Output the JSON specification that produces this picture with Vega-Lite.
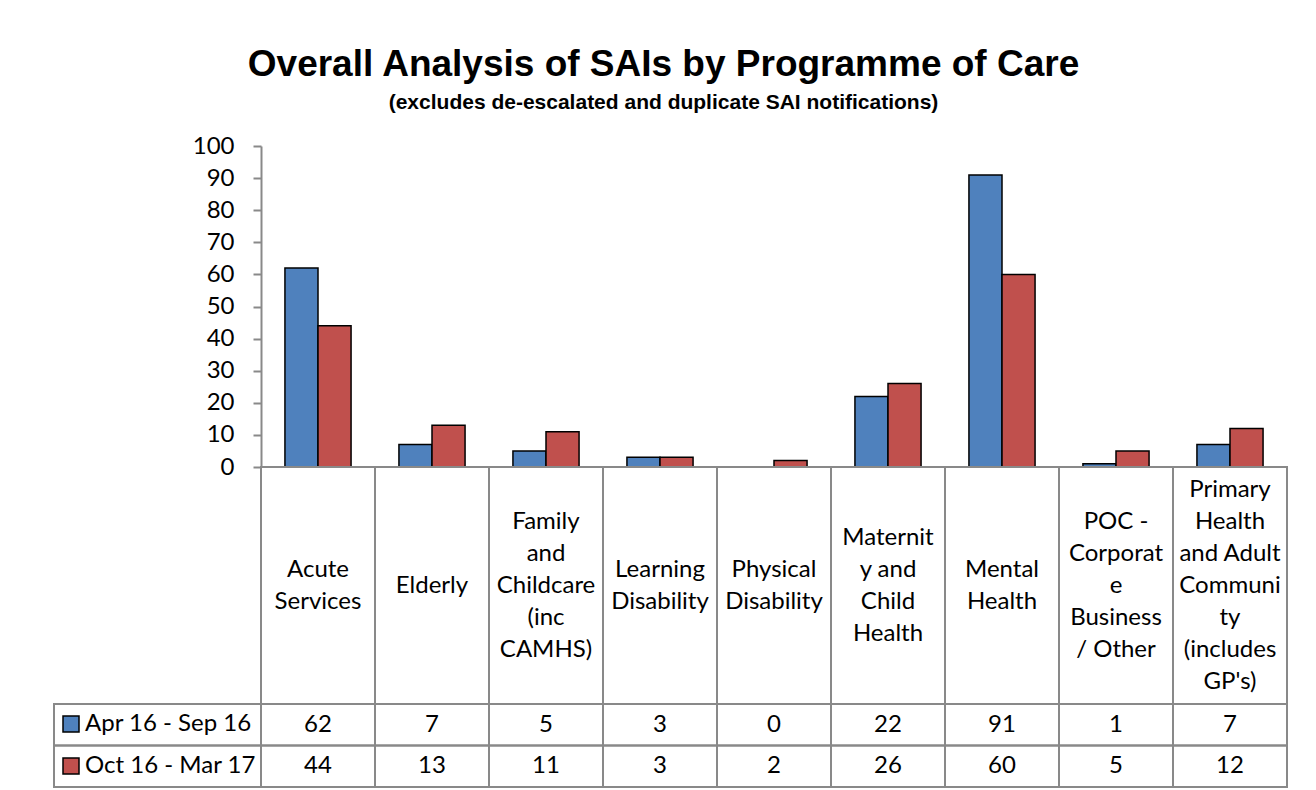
{
  "$schema": "https://vega.github.io/schema/vega-lite/v6.json",
  "background": "white",
  "padding": {"left": 53, "top": 46, "right": 5, "bottom": 2},
  "title": {
    "text": "Overall Analysis of SAIs by Programme of Care",
    "subtitle": "(excludes de-escalated and duplicate SAI notifications)",
    "font": "Liberation Sans", "fontSize": 37, "fontWeight": "bold", "color": "black",
    "subtitleFont": "Liberation Sans", "subtitleFontSize": 21, "subtitleFontWeight": "bold", "subtitleColor": "black",
    "anchor": "middle", "subtitlePadding": 8, "offset": 20, "dx": -7
  },
  "config": {"view": {"stroke": null}, "font": "Lato"},
  "datasets": {
    "bars": [
      {"category": "Acute Services", "series": "Apr 16 - Sep 16", "value": 62},
      {"category": "Acute Services", "series": "Oct 16 - Mar 17", "value": 44},
      {"category": "Elderly", "series": "Apr 16 - Sep 16", "value": 7},
      {"category": "Elderly", "series": "Oct 16 - Mar 17", "value": 13},
      {"category": "Family and Childcare (inc CAMHS)", "series": "Apr 16 - Sep 16", "value": 5},
      {"category": "Family and Childcare (inc CAMHS)", "series": "Oct 16 - Mar 17", "value": 11},
      {"category": "Learning Disability", "series": "Apr 16 - Sep 16", "value": 3},
      {"category": "Learning Disability", "series": "Oct 16 - Mar 17", "value": 3},
      {"category": "Physical Disability", "series": "Apr 16 - Sep 16", "value": 0},
      {"category": "Physical Disability", "series": "Oct 16 - Mar 17", "value": 2},
      {"category": "Maternity and Child Health", "series": "Apr 16 - Sep 16", "value": 22},
      {"category": "Maternity and Child Health", "series": "Oct 16 - Mar 17", "value": 26},
      {"category": "Mental Health", "series": "Apr 16 - Sep 16", "value": 91},
      {"category": "Mental Health", "series": "Oct 16 - Mar 17", "value": 60},
      {"category": "POC - Corporate Business / Other", "series": "Apr 16 - Sep 16", "value": 1},
      {"category": "POC - Corporate Business / Other", "series": "Oct 16 - Mar 17", "value": 5},
      {"category": "Primary Health and Adult Community (includes GP's)", "series": "Apr 16 - Sep 16", "value": 7},
      {"category": "Primary Health and Adult Community (includes GP's)", "series": "Oct 16 - Mar 17", "value": 12}
    ],
    "cats": [
      {"category": "Acute Services", "label": "Acute\nServices"},
      {"category": "Elderly", "label": "Elderly"},
      {"category": "Family and Childcare (inc CAMHS)", "label": "Family\nand\nChildcare\n(inc\nCAMHS)"},
      {"category": "Learning Disability", "label": "Learning\nDisability"},
      {"category": "Physical Disability", "label": "Physical\nDisability"},
      {"category": "Maternity and Child Health", "label": "Maternit\ny and\nChild\nHealth"},
      {"category": "Mental Health", "label": "Mental\nHealth"},
      {"category": "POC - Corporate Business / Other", "label": "POC -\nCorporat\ne\nBusiness\n/ Other"},
      {"category": "Primary Health and Adult Community (includes GP's)", "label": "Primary\nHealth\nand Adult\nCommuni\nty\n(includes\nGP's)"}
    ],
    "series": [
      {"series": "Apr 16 - Sep 16"},
      {"series": "Oct 16 - Mar 17"}
    ]
  },
  "columns": 2,
  "spacing": 0,
  "bounds": "flush",
  "resolve": {"legend": {"color": "independent"}, "scale": {"color": "independent"}},
  "concat": [
    {
      "width": 207, "height": 321,
      "data": {"values": [{}]},
      "mark": {"type": "text"},
      "encoding": {"text": {"value": ""}}
    },
    {
      "width": 1026, "height": 321,
      "data": {"name": "bars"},
      "mark": {"type": "bar", "stroke": "black", "strokeWidth": 1.5},
      "encoding": {
        "x": {"field": "category", "type": "nominal", "sort": null, "scale": {"paddingInner": 0.42, "paddingOuter": 0.21}, "axis": null},
        "xOffset": {"field": "series", "type": "nominal", "sort": null, "scale": {"paddingInner": 0, "paddingOuter": 0}},
        "y": {
          "field": "value", "type": "quantitative",
          "scale": {"domain": [0, 100], "nice": false},
          "axis": {"values": [0, 10, 20, 30, 40, 50, 60, 70, 80, 90, 100], "title": null, "grid": false,
            "domainColor": "#898989", "domainWidth": 2, "tickColor": "#898989", "tickWidth": 2, "tickSize": 8,
            "labelPadding": 19, "labelFont": "Lato", "labelFontSize": 24, "labelColor": "black"}
        },
        "color": {
          "field": "series", "type": "nominal", "sort": null,
          "scale": {"range": ["#4F81BD", "#C0504D"]},
          "legend": {"orient": "none", "legendX": -202, "legendY": 566, "title": null,
            "symbolType": "square", "symbolSize": 256, "symbolStrokeColor": "black", "symbolStrokeWidth": 1.5, "symbolOpacity": 1,
            "labelFont": "Lato", "labelFontSize": 24, "labelColor": "black", "labelOffset": 2, "labelLimit": 0, "rowPadding": 18}
        }
      }
    },
    {
      "width": 207, "height": 237,
      "data": {"values": [{}]},
      "mark": {"type": "text"},
      "encoding": {"text": {"value": ""}}
    },
    {
      "width": 1026, "height": 237,
      "data": {"name": "cats"},
      "layer": [
        {
          "mark": {"type": "rect", "filled": false, "stroke": "#898989", "strokeWidth": 2},
          "encoding": {"x": {"field": "category", "type": "nominal", "sort": null, "scale": {"paddingInner": 0, "paddingOuter": 0}, "axis": null}}
        },
        {
          "mark": {"type": "text", "font": "Lato", "fontSize": 24, "lineBreak": "\n", "lineHeight": 32, "baseline": "middle", "align": "center", "color": "black",
            "dy": {"expr": "-(length(split(datum.label, '\\n')) - 1) * 16"}},
          "encoding": {
            "x": {"field": "category", "type": "nominal", "sort": null, "axis": null},
            "text": {"field": "label"}
          }
        }
      ]
    },
    {
      "width": 207, "height": 83,
      "data": {"name": "series"},
      "mark": {"type": "rect", "filled": false, "stroke": "#898989", "strokeWidth": 2},
      "encoding": {"y": {"field": "series", "type": "nominal", "sort": null, "scale": {"paddingInner": 0, "paddingOuter": 0}, "axis": null}}
    },
    {
      "width": 1026, "height": 83,
      "data": {"name": "bars"},
      "layer": [
        {
          "mark": {"type": "rect", "filled": false, "stroke": "#898989", "strokeWidth": 2},
          "encoding": {
            "x": {"field": "category", "type": "nominal", "sort": null, "scale": {"paddingInner": 0, "paddingOuter": 0}, "axis": null},
            "y": {"field": "series", "type": "nominal", "sort": null, "scale": {"paddingInner": 0, "paddingOuter": 0}, "axis": null}
          }
        },
        {
          "mark": {"type": "text", "font": "Lato", "fontSize": 24, "baseline": "middle", "align": "center", "color": "black"},
          "encoding": {
            "x": {"field": "category", "type": "nominal", "sort": null, "axis": null},
            "y": {"field": "series", "type": "nominal", "sort": null, "axis": null},
            "text": {"field": "value", "type": "quantitative"}
          }
        }
      ]
    }
  ]
}
